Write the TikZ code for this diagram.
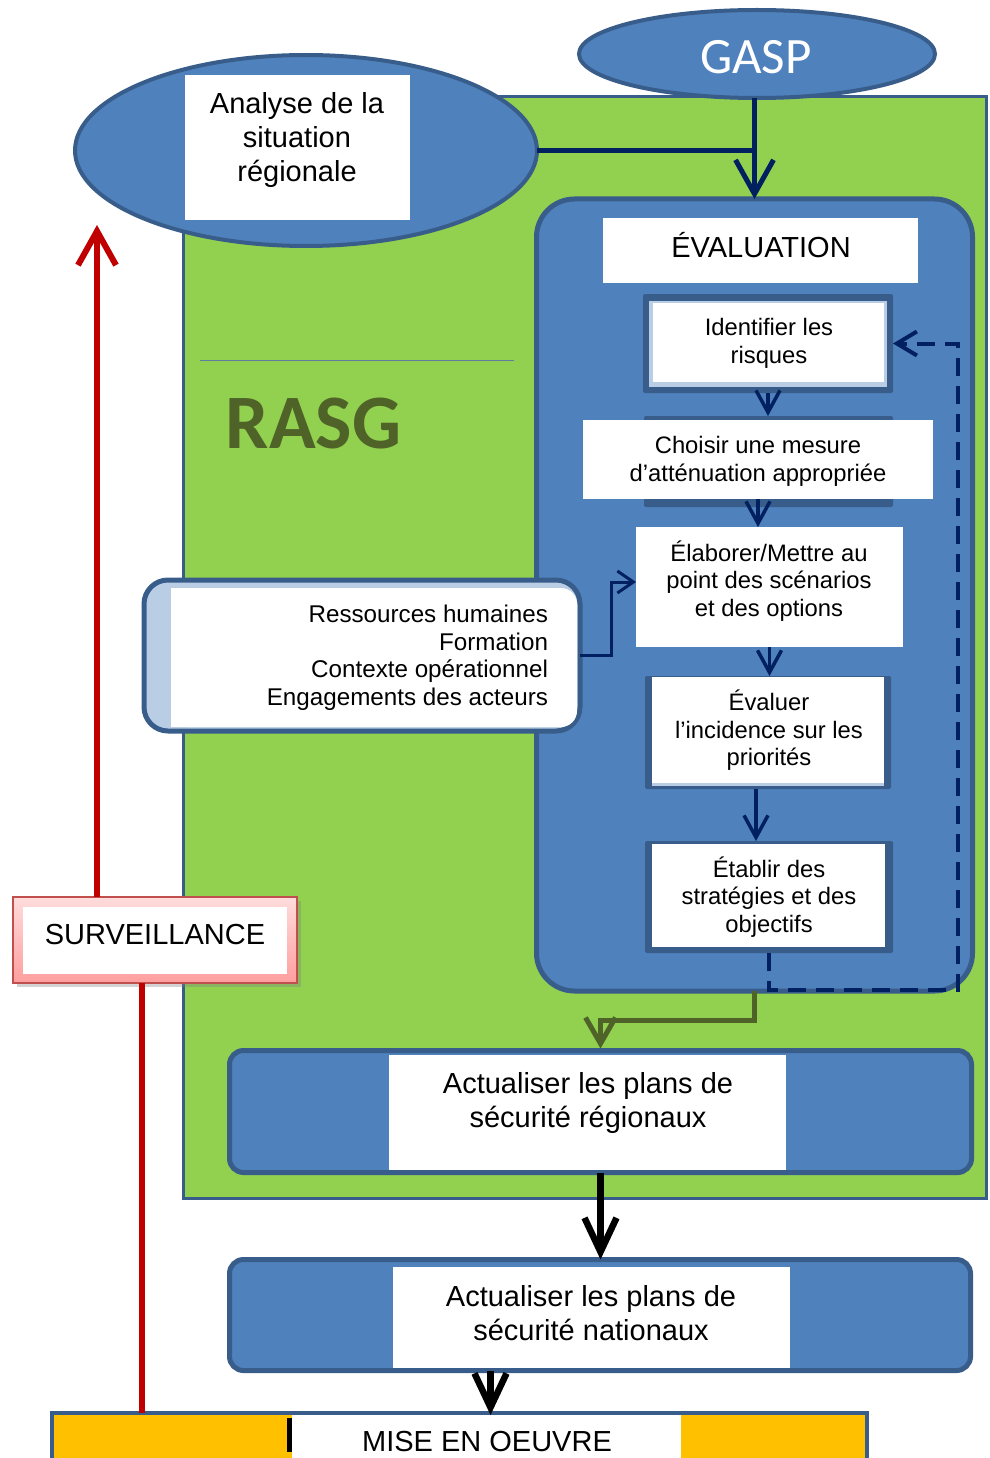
\documentclass[tikz,border=0pt]{standalone}
\usepackage{fontspec}
\setmainfont{Liberation Sans}
\newfontfamily\calfont{Carlito}
\usetikzlibrary{arrows.meta,shapes.geometric,shadows}
\definecolor{leaf}{HTML}{92D050}
\definecolor{steel}{HTML}{4F81BD}
\definecolor{edge}{HTML}{385D8A}
\definecolor{navy}{HTML}{002060}
\definecolor{olive}{HTML}{4F6228}
\definecolor{alert}{HTML}{C00000}
\definecolor{gold}{HTML}{FFC000}
\definecolor{pale}{HTML}{B9CDE5}
\definecolor{rose}{HTML}{C0504D}
\definecolor{pinklight}{HTML}{FFDCDC}
\definecolor{pinkdeep}{HTML}{FF9E9E}
\begin{document}
\begin{tikzpicture}[x=1pt,y=-1pt,
  every node/.style={inner sep=0pt, outer sep=0pt},
  whitebox/.style={rectangle, fill=white},
  darkbox/.style={rectangle, fill=edge, rounded corners=2pt},
  bluepanel/.style={rectangle, draw=edge, line width=5pt, fill=steel},
  body/.style={font=\fontsize{23.8}{27.5}\selectfont, align=center},
  big/.style={font=\fontsize{29}{34}\selectfont, align=center},
  navystep/.style={draw=navy, line width=3.5pt, -{Straight Barb[length=22pt,width=24pt]}},
  navymain/.style={draw=navy, line width=5pt},
  loopline/.style={draw=navy, line width=4pt, dash pattern=on 18pt off 10pt, -{Straight Barb[length=20pt,width=24pt]}},
  olivearrow/.style={draw=olive, line width=5pt, -{Straight Barb[length=26pt,width=30pt]}},
  blackarrow/.style={draw=black, line width=6.5pt, -{Straight Barb[length=34pt,width=32pt]}},
  alertline/.style={draw=alert, line width=6pt}
]
\useasboundingbox (0,0) rectangle (989,1458);

% regional frame (RASG)
\node[rectangle, draw=edge, line width=3pt, fill=leaf,
      minimum width=803pt, minimum height=1101pt] (rasg) at (584.5,647.5) {};
\draw[edge!80, line width=0.8pt] (200,360) -- (514,360);
\node[text=olive, font=\calfont\bfseries\fontsize{77}{82}\selectfont] (rasgtitle) at (313.5,424) {RASG};

% regional situation analysis
\node[ellipse, draw=edge, line width=4pt, fill=steel,
      minimum width=462pt, minimum height=191pt] (analyse) at (306,150.5) {};
\node[whitebox, minimum width=225pt, minimum height=145pt] (analysebox) at (297.5,147.5) {};
\node[big] (analysetext) at (297,140) {Analyse de la\\situation\\régionale};

% GASP
\node[ellipse, draw=edge, line width=4pt, fill=steel,
      minimum width=356pt, minimum height=88pt] (gasp) at (757,54) {};
\node[text=white, font=\calfont\fontsize{51}{60}\selectfont] (gasptext) at (756,57) {GASP};

% evaluation container
\node[bluepanel, rounded corners=38pt, minimum width=436pt, minimum height=792pt] (evalbox) at (754.5,595) {};

% inputs to the evaluation
\draw[navymain] (analyse.east) -- (analyse.east -| evalbox.north);
\draw[navymain, -{Straight Barb[length=34pt,width=38pt]}] (gasp.south -| evalbox.north) -- (evalbox.north);

\node[whitebox, minimum width=315pt, minimum height=65pt] (evaltitlebox) at (760.5,250.5) {};
\node[big] (evaltitle) at (761,245) {ÉVALUATION};

% step 1
\node[darkbox, minimum width=250pt, minimum height=99pt] (ident) at (768,343.5) {};
\node[rectangle, fill=pale, minimum width=238pt, minimum height=86pt] (identband) at (768,344) {};
\node[whitebox, minimum width=231pt, minimum height=79pt] (identwhite) at (768.5,342.5) {};
\node[body] (identtext) at (769,343.5) {Identifier les\\risques};

% step 2
\node[darkbox, minimum width=249pt, minimum height=91pt] (choisirback) at (768.5,461.5) {};
\node[whitebox, minimum width=350pt, minimum height=79pt] (choisir) at (758,459.5) {};
\node[body] (choisirtext) at (758,461.5) {Choisir une mesure\\d’atténuation appropriée};

% step 3
\node[whitebox, minimum width=267pt, minimum height=120pt] (elab) at (769.5,587) {};
\node[body] (elabtext) at (769,581) {Élaborer/Mettre au\\point des scénarios\\et des options};

% step 4
\node[darkbox, minimum width=246pt, minimum height=113pt] (evalr) at (768,732.5) {};
\node[rectangle, fill=pale, minimum width=232pt, minimum height=3pt] (evalrband) at (768,784.5) {};
\node[whitebox, minimum width=232pt, minimum height=106pt] (evalrwhite) at (768,730) {};
\node[body] (evalrtext) at (769,730.5) {Évaluer\\l’incidence sur les\\priorités};

% step 5
\node[darkbox, minimum width=248pt, minimum height=112pt] (estab) at (769,897) {};
\node[whitebox, minimum width=233pt, minimum height=103pt] (estabwhite) at (768.5,895.5) {};
\node[body] (estabtext) at (769,897) {Établir des\\stratégies et des\\objectifs};

% step connectors
\draw[navystep] (ident.south) -- (ident.south |- choisirback.north);
\draw[navystep] (choisir.south) -- (choisir.south |- elab.north);
\draw[navystep] (elab.south) -- (elab.south |- evalr.north);
\draw[navystep] ([xshift=-12pt]evalr.south) -- ([xshift=-12pt]evalr.south |- estab.north);

% feedback loop
\coordinate (loopcorner) at (958,990);
\draw[loopline] (estab.south) -- (estab.south |- loopcorner) -- (loopcorner)
  -- (loopcorner |- ident.east) -- (ident.east);

% resources panel
\node[rectangle, rounded corners=24pt, draw=edge, line width=5pt, fill=pale,
      minimum width=436pt, minimum height=151pt] (res) at (362,655.5) {};
\fill[white, rounded corners=16pt] (171,588) rectangle (577,727);
\fill[white] (171,588) rectangle (210,727);
\node[font=\fontsize{24.2}{27.5}\selectfont, align=right, anchor=east] (restext) at (548,657.5)
  {Ressources humaines\\Formation\\Contexte opérationnel\\Engagements des acteurs};
\draw[draw=navy, line width=3pt, -{Straight Barb[length=16pt,width=22pt]}]
  (res.east) -- ++(31,0) |- ([yshift=5pt]elab.west);

% regional safety plans
\node[bluepanel, rounded corners=14pt, minimum width=742pt, minimum height=122pt] (regional) at (600.5,1111.5) {};
\node[whitebox, minimum width=397pt, minimum height=115pt] (regionalwhite) at (587.5,1112.5) {};
\node[big] (regionaltext) at (588,1103) {Actualiser les plans de\\sécurité régionaux};
\draw[olivearrow] (evalbox.south) -- ++(0,29) -| ([yshift=2pt]regional.north);

% national safety plans
\node[bluepanel, rounded corners=14pt, minimum width=741pt, minimum height=111pt] (national) at (600,1315) {};
\node[whitebox, minimum width=397pt, minimum height=101pt] (nationalwhite) at (591.5,1317.5) {};
\node[big] (nationaltext) at (591,1313.5) {Actualiser les plans de\\sécurité nationaux};
\draw[blackarrow] (regional.south) -- (regional.south |- national.north);

% implementation
\node[rectangle, draw=edge, line width=4pt, fill=gold,
      minimum width=815pt, minimum height=56pt] (mise) at (459.5,1441) {};
\node[whitebox, minimum width=389pt, minimum height=55pt] (misewhite) at (486.5,1442.5) {};
\fill[black] (287,1418) rectangle (292,1452);
\node[big] (misetext) at (487,1441) {MISE EN OEUVRE};
\draw[blackarrow] ([xshift=4pt]misewhite.north |- national.south) -- ([xshift=4pt]misewhite.north);

% monitoring loop
\node[rectangle, draw=rose, line width=2pt, top color=pinklight, bottom color=pinkdeep,
      drop shadow={shadow xshift=4pt, shadow yshift=-4pt, opacity=0.35},
      minimum width=284pt, minimum height=86pt] (surv) at (155,940) {};
\node[whitebox, minimum width=264pt, minimum height=67pt] (survwhite) at (155,940.5) {};
\node[big] (survtext) at (155,935) {SURVEILLANCE};
\coordinate (redlow) at (142,1200);
\coordinate (redtip) at (97,225);
\draw[alertline] (surv.south -| redlow) -- (mise.north -| redlow);
\draw[alertline, -{Straight Barb[length=34pt,width=38pt]}] (surv.north -| redtip) -- (redtip);
\end{tikzpicture}
\end{document}
